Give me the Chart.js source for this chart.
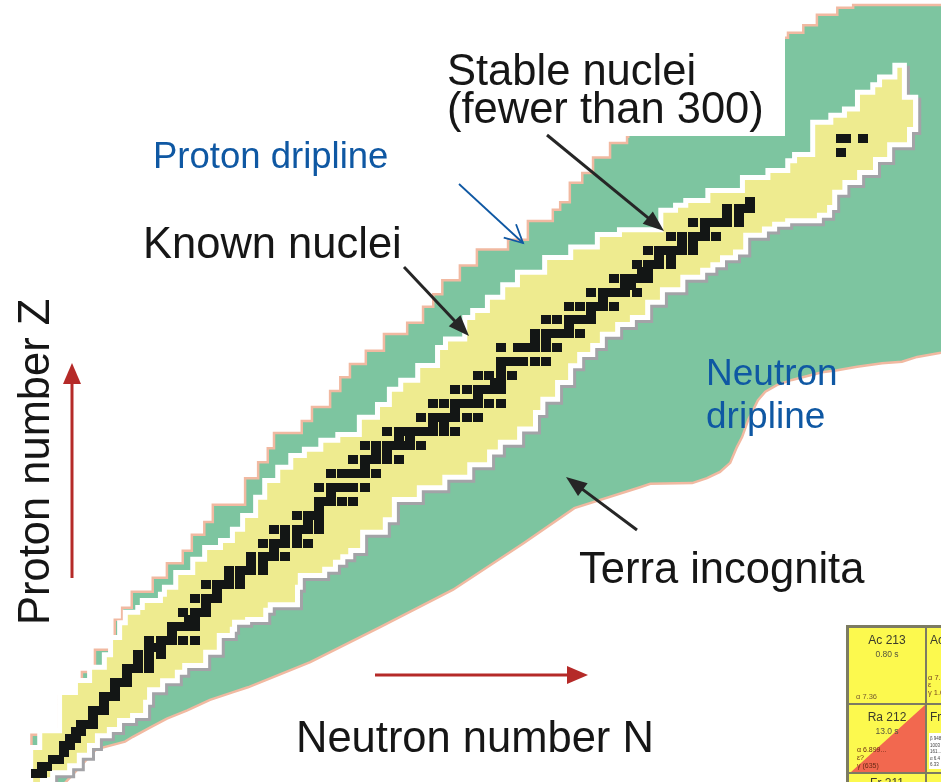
<!DOCTYPE html>
<html>
<head>
<meta charset="utf-8">
<script src="https://cdn.jsdelivr.net/npm/chart.js@4.4.1/dist/chart.umd.min.js"></script>
<style>
  html, body { margin: 0; padding: 0; background: #ffffff; overflow: hidden; }
  #wrap { position: relative; width: 941px; height: 782px; }
</style>
</head>
<body>
<div id="wrap"><canvas id="chart"></canvas></div>
<script>
// Chart of the nuclides: neutron number N across, proton number Z upwards.

// Stable (and primordial) nuclei: one entry per element, with its stable neutron numbers.
const stableZ = [1,2,3,4,5,6,7,8,9,10,11,12,13,14,15,16,17,18,19,20,21,22,23,24,25,26,27,28,29,30,
  31,32,33,34,35,36,37,38,39,40,41,42,44,45,46,47,48,49,50,51,52,53,54,55,56,57,58,59,60,
  62,63,64,65,66,67,68,69,70,71,72,73,74,75,76,77,78,79,80,81,82,83,90,92];
const stableN = [
  [0,1],[1,2],[3,4],[5],[5,6],[6,7],[7,8],[8,9,10],[10],[10,11,12],
  [12],[12,13,14],[14],[14,15,16],[16],[16,17,18,20],[18,20],[18,20,22],[20,21,22],[20,22,23,24,26,28],
  [24],[24,25,26,27,28],[27,28],[26,28,29,30],[30],[28,30,31,32],[32],[30,32,33,34,36],[34,36],[34,36,37,38,40],
  [38,40],[38,40,41,42,44],[42],[40,42,43,44,46,48],[44,46],[42,44,46,47,48,50],[48,50],[46,48,49,50],[50],[50,51,52,54,56],
  [52],[50,52,53,54,55,56,58],
  [52,54,55,56,57,58,60],[58],[56,58,59,60,62,64],[60,62],[58,60,62,63,64,65,66,68],[64,66],[62,64,65,66,67,68,69,70,72,74],[70,72],
  [68,70,71,72,73,74,76,78],[74],[70,72,74,75,76,77,78,80,82],[78],[74,76,78,79,80,81,82],[81,82],[78,80,82,84],[82],[82,83,84,85,86,88,90],
  [82,85,86,87,88,90,92],[88,90],[88,90,91,92,93,94,96],[94],[90,92,94,95,96,97,98],[98],[94,96,98,99,100,102],[100],[98,100,101,102,103,104,106],[104,105],
  [102,104,105,106,107,108],[107,108],[106,108,109,110,112],[110,112],[108,110,111,112,113,114,116],[114,116],[112,114,116,117,118,120],[118],[116,118,119,120,121,122,124],[122,124],
  [122,124,125,126],[126],[142],[142,143,146]
];

// Known nuclei, proton-rich side: top-left corners of the steps, [N, Z], left to right.
const knownProtonEdge = [
  [-1.1,-1.4],[-0.5,4.3],[1.1,6.7],[4.6,12.2],[7.4,13.9],[9.9,15.8],[12.5,17.6],[13.6,20.1],[15.2,22.2],[16.2,23.7],
  [18.4,24.4],[19.2,25.4],[22.4,26.3],[23.1,27.3],[25.1,29.4],[28.1,31.3],[30.2,33.0],[33.0,34.0],[35.1,35.6],[36.9,37.6],
  [39.2,40.2],[40.8,42.6],[43.1,44.5],[45.4,46.2],[47.8,47.1],[50.7,48.4],[53.7,49.2],[57.5,51.7],[60.7,53.5],[62.8,55.7],
  [64.8,57.0],[67.8,59.1],[71.3,61.7],[72.7,62.9],[76.1,66.0],[77.5,67.0],[80.1,68.9],[82.8,70.7],[85.4,72.5],[90.2,74.6],
  [94.8,76.1],[99.5,77.9],[103.4,78.6],[110.7,81.4],[113.3,82.1],[115.1,82.8],[119.0,84.2],[125.1,86.1],[129.6,87.1],[133.1,88.5],
  [134.3,89.4],[137.5,92.1],[137.5,94.0],[140.7,95.0],[143.1,95.9],[145.4,98.3],[148.1,99.4],[149.3,100.5],[152.0,102.2],[152.8,97.6],
  [154.8,93.7]
];
// Known nuclei, neutron-rich side: bottom-right corners of the steps, [N, Z], left to right.
const knownNeutronEdge = [
  [-1.1,-1.4],[0.7,-1.4],[2.5,0.4],[5.5,1.4],[7.2,2.4],[9.0,3.9],[10.4,5.3],[12.5,6.7],[14.3,7.6],[16.6,8.9],
  [18.9,9.6],[19.6,11.5],[21.9,13.3],[24.5,14.6],[25.8,15.8],[29.5,16.8],[31.9,18.7],[34.2,21.1],[34.6,22.0],[36.9,23.0],
  [40.1,23.4],[40.9,24.7],[45.7,25.5],[46.2,28.0],[50.5,29.7],[52.4,30.6],[53.7,31.6],[55.1,32.4],[57.2,33.3],[61.2,35.9],
  [62.8,37.7],[67.2,40.6],[71.7,42.3],[76.1,43.8],[79.6,45.6],[81.5,47.4],[84.9,48.8],[87.7,50.7],[89.0,53.1],[91.6,55.0],
  [93.9,57.4],[95.5,59.8],[97.8,61.4],[99.5,62.7],[102.2,64.3],[104.8,65.7],[107.5,66.7],[110.1,68.9],[113.7,70.7],[117.2,72.5],
  [119.0,73.5],[120.7,74.3],[123.0,75.3],[124.8,76.1],[128.1,78.5],[129.9,79.4],[132.2,80.1],[137.8,80.6],[139.6,81.4],[140.5,82.5],
  [142.3,84.7],[144.9,86.1],[147.7,87.5],[150.2,89.4],[153.7,91.5],[154.8,93.7]
];
// Proton drip line (outer limit, stepped), [N, Z].
const protonDripEdge = [
  [-0.8,-1.4],[-0.8,6.5],[4.0,12.0],[8.1,15.5],[10.4,18.7],[13.9,23.0],[15.2,24.7],[16.9,27.0],[20.6,29.0],[23.1,31.1],
  [25.9,32.9],[27.5,35.2],[29.7,37.0],[31.2,39.5],[36.9,43.3],[39.2,45.6],[40.9,47.6],[42.0,49.8],[46.9,51.5],[48.7,53.5],
  [51.9,55.8],[53.7,57.8],[55.4,59.7],[58.2,61.6],[61.4,64.0],[65.5,65.6],[68.3,67.9],[70.1,69.7],[71.7,71.7],[74.8,73.8],
  [77.8,76.1],[83.3,77.5],[86.8,80.2],[91.2,81.8],[92.5,82.9],[94.2,85.7],[96.4,87.1],[98.3,89.3],[101.3,91.4],[104.3,92.3],
  [104.5,103.3],[131.9,106.5],[132.7,107.2],[135.4,108.3],[137.8,109.8],[141.4,110.8],[144.2,111.2],[163.1,111.2]
];
// Neutron drip line (outer limit), [N, Z].
const neutronDripEdge = [
  [-0.8,-1.4],[4.0,-1.4],[10.6,4.4],[15.7,5.5],[17.1,6.2],[20.1,7.5],[23.1,8.8],[26.7,10.0],[30.7,11.5],[34.8,12.6],
  [37.4,13.3],[48.4,16.9],[60.9,22.0],[73.6,27.3],[86.1,34.0],[95.0,39.0],[106.6,42.0],[108.4,42.5],[115.8,42.6],[118.4,43.3],
  [120.7,44.2],[122.5,45.5],[123.7,47.8],[124.6,49.2],[125.7,51.7],[127.4,54.5],[128.7,55.7],[130.8,56.7],[133.4,57.4],[138.7,58.5],
  [141.4,58.8],[144.9,59.3],[149.3,59.8],[152.8,60.0],[155.5,60.7],[159.7,61.3],[163.1,61.7]
];

const GREEN = '#7dc5a0', PINK = '#f1b9a1', YELLOW = '#eeeb8f', SHADOW = '#a3a3a7';
const INK = '#161616', BLUE = '#0f58a3', RED = '#b52a28', CELL = '#131615';
const FONT = '"Liberation Sans", Arial, Helvetica, sans-serif';

const toXY = pts => pts.map(([n, z]) => ({ x: n, y: z }));
const stablePoints = [];
stableZ.forEach((z, i) => stableN[i].forEach(n => stablePoints.push({ x: n, y: z })));
// closed outline of the known region: proton side out, neutron side back
const knownOutline = knownProtonEdge.concat(knownNeutronEdge.slice().reverse());

// square marker for one stable nucleus
const cellMark = document.createElement('canvas');
cellMark.width = 10; cellMark.height = 9;
const cm = cellMark.getContext('2d');
cm.fillStyle = CELL; cm.fillRect(0, 0, 10, 9);

// grey drop shadow under the white rim of the known region
const rimShadow = {
  id: 'rimShadow',
  beforeDatasetsDraw(chart) { chart.ctx.imageSmoothingEnabled = false; },
  beforeDatasetDraw(chart, args) {
    if (chart.data.datasets[args.index].rimShadow) {
      const ctx = chart.ctx;
      ctx.save();
      ctx.shadowColor = SHADOW;
      ctx.shadowOffsetX = 3;
      ctx.shadowOffsetY = 3;
      ctx.shadowBlur = 0;
    }
  },
  afterDatasetDraw(chart, args) {
    if (chart.data.datasets[args.index].rimShadow) chart.ctx.restore();
  }
};

function arrow(ctx, x1, y1, x2, y2, o) {
  const a = Math.atan2(y2 - y1, x2 - x1);
  const bx = x2 - o.head * Math.cos(a), by = y2 - o.head * Math.sin(a);
  ctx.save();
  ctx.strokeStyle = o.color; ctx.fillStyle = o.color; ctx.lineWidth = o.width;
  ctx.lineCap = 'butt'; ctx.lineJoin = 'miter';
  ctx.beginPath(); ctx.moveTo(x1, y1);
  if (o.open) ctx.lineTo(x2, y2); else ctx.lineTo(bx + 2 * Math.cos(a), by + 2 * Math.sin(a));
  ctx.stroke();
  if (o.open) {
    ctx.beginPath();
    ctx.moveTo(x2 - o.head * Math.cos(a - o.spread), y2 - o.head * Math.sin(a - o.spread));
    ctx.lineTo(x2, y2);
    ctx.lineTo(x2 - o.head * Math.cos(a + o.spread), y2 - o.head * Math.sin(a + o.spread));
    ctx.stroke();
  } else {
    const px = -Math.sin(a) * o.half, py = Math.cos(a) * o.half;
    ctx.beginPath();
    ctx.moveTo(x2, y2); ctx.lineTo(bx + px, by + py); ctx.lineTo(bx - px, by - py);
    ctx.closePath(); ctx.fill();
  }
  ctx.restore();
}

function text(ctx, t, x, y, size, color, align) {
  ctx.font = size + 'px ' + FONT;
  ctx.fillStyle = color;
  ctx.textAlign = align || 'left';
  ctx.textBaseline = 'alphabetic';
  ctx.fillText(t, x, y);
}

// corner of a printed nuclide chart
function drawChartCorner(ctx) {
  ctx.save();
  ctx.beginPath(); ctx.rect(846, 625, 95, 157); ctx.clip();
  ctx.fillStyle = '#7c7b62'; ctx.fillRect(846, 625, 95, 157);
  const Y = '#fcf94e';
  ctx.fillStyle = Y;
  ctx.fillRect(849, 628, 76, 75);
  ctx.fillRect(927, 628, 20, 75);
  ctx.fillRect(849, 705, 76, 67);
  ctx.fillRect(927, 705, 20, 67);
  ctx.fillRect(849, 774, 76, 12);
  ctx.fillRect(927, 774, 20, 12);
  ctx.fillStyle = '#f2684f';
  ctx.beginPath(); ctx.moveTo(925, 705); ctx.lineTo(925, 772); ctx.lineTo(851, 772); ctx.closePath(); ctx.fill();
  ctx.fillStyle = '#ffffff'; ctx.fillRect(929, 733, 12, 36);

  text(ctx, 'Ac 213', 887, 644, 12, '#3a3a2c', 'center');
  text(ctx, '0.80 s', 887, 657, 8.5, '#55553e', 'center');
  text(ctx, '\u03b1 7.36', 856, 699, 7.5, '#7a6030');
  text(ctx, 'Ac 214', 930, 644, 12, '#3a3a2c');
  text(ctx, '\u03b1 7.21', 928, 680, 7.5, '#7a4a20');
  text(ctx, '\u03b5', 928, 687, 7.5, '#7a4a20');
  text(ctx, '\u03b3 1.0', 928, 695, 7.5, '#7a4a20');

  text(ctx, 'Ra 212', 887, 721, 12, '#3a3a2c', 'center');
  text(ctx, '13.0 s', 887, 734, 8.5, '#55553e', 'center');
  text(ctx, '\u03b1 6.899...', 857, 752, 7, '#6a2a14');
  text(ctx, '\u03b5?', 857, 760, 7, '#6a2a14');
  text(ctx, '\u03b3 (635)', 857, 768, 7, '#6a2a14');
  text(ctx, 'Fr 213', 930, 721, 12, '#3a3a2c');
  ['\u03b2 948', '1003', '161...', '\u03b1 6.4', '6.33'].forEach((s, i) =>
    text(ctx, s, 930, 740 + i * 6.5, 4.5, '#444444'));

  text(ctx, 'Fr 211', 887, 787, 12, '#3a3a2c', 'center');
  ctx.restore();
}

const annotations = {
  id: 'annotations',
  afterDatasetsDraw(chart) {
    const ctx = chart.ctx;
    ctx.save();
    // panel behind the stable-nuclei caption
    ctx.fillStyle = '#ffffff';
    ctx.fillRect(430, 0, 355, 136);

    text(ctx, 'Stable nuclei', 447, 85, 43.5, INK);
    text(ctx, '(fewer than 300)', 447, 123, 43.5, INK);
    text(ctx, 'Proton dripline', 153, 168, 36.5, BLUE);
    text(ctx, 'Known nuclei', 143, 258, 43.5, INK);
    text(ctx, 'Neutron', 706, 385, 37, BLUE);
    text(ctx, 'dripline', 706, 428, 37, BLUE);
    text(ctx, 'Terra incognita', 579, 583, 43.5, INK);
    text(ctx, 'Neutron number N', 296, 752, 43.5, INK);

    ctx.save();
    ctx.translate(49, 625);
    ctx.rotate(-Math.PI / 2);
    text(ctx, 'Proton number Z', 0, 0, 43.5, INK);
    ctx.restore();

    const dark = { color: '#262626', width: 3, head: 21, half: 8 };
    arrow(ctx, 404, 267, 469, 336, dark);
    arrow(ctx, 547, 135, 664, 231, dark);
    arrow(ctx, 637, 530, 566, 477, dark);
    arrow(ctx, 459, 184, 523, 243, { color: BLUE, width: 1.8, head: 20, open: true, spread: 0.47 });

    const red = { color: RED, width: 3, head: 21, half: 9 };
    arrow(ctx, 72, 578, 72, 363, red);
    arrow(ctx, 375, 675, 588, 675, red);

    drawChartCorner(ctx);
    ctx.restore();
  }
};

const line = { type: 'line', pointRadius: 0, tension: 0, borderJoinStyle: 'miter', spanGaps: true };

new Chart(document.getElementById('chart'), {
  type: 'line',
  data: {
    datasets: [
      Object.assign({}, line, {
        label: 'Proton drip line', data: toXY(protonDripEdge), stepped: 'before',
        fill: '+1', backgroundColor: GREEN, borderColor: PINK, borderWidth: 2.5, order: 7
      }),
      Object.assign({}, line, {
        label: 'Neutron drip line', data: toXY(neutronDripEdge), stepped: false,
        fill: false, borderColor: PINK, borderWidth: 2.5, order: 6
      }),
      Object.assign({}, line, {
        label: 'Known nuclei rim', data: toXY(knownOutline), stepped: 'before',
        fill: false, borderColor: '#ffffff', borderWidth: 10, borderCapStyle: 'square',
        rimShadow: true, order: 5
      }),
      Object.assign({}, line, {
        label: 'Known nuclei', data: toXY(knownProtonEdge), stepped: 'before',
        fill: '+1', backgroundColor: YELLOW, borderWidth: 0, order: 4
      }),
      Object.assign({}, line, {
        label: 'Known nuclei (neutron-rich edge)', data: toXY(knownNeutronEdge), stepped: 'after',
        fill: false, borderWidth: 0, order: 3
      }),
      {
        type: 'line', label: 'Stable nuclei', data: stablePoints, showLine: false,
        pointStyle: cellMark, pointRadius: 5, order: 1
      }
    ]
  },
  options: {
    responsive: true,
    maintainAspectRatio: false,
    devicePixelRatio: 1,
    animation: false,
    events: [],
    layout: { padding: 0, autoPadding: false },
    plugins: { legend: { display: false }, tooltip: { enabled: false }, title: { display: false } },
    scales: {
      x: { type: 'linear', min: -6.353, max: 159.70, display: false },
      y: { type: 'linear', min: -0.287, max: 111.908, display: false }
    }
  },
  plugins: [rimShadow, annotations]
});
</script>
</body>
</html>
